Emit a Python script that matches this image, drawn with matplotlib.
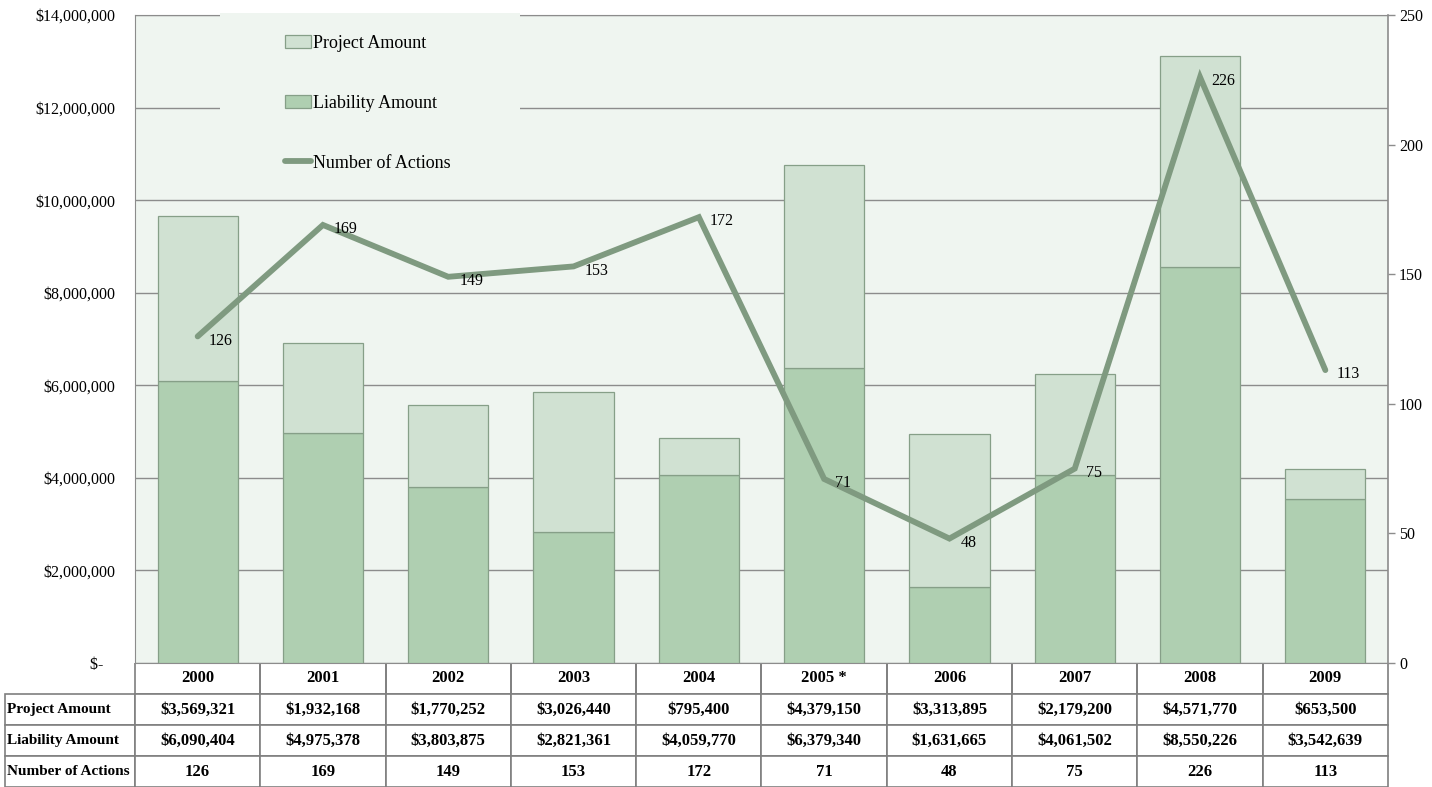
import matplotlib
matplotlib.use('agg')
import matplotlib.pyplot as plt
from matplotlib.ticker import FuncFormatter, MultipleLocator
from matplotlib.table import Table
from matplotlib.patches import Rectangle

years = ['2000', '2001', '2002', '2003', '2004', '2005 *', '2006', '2007', '2008', '2009']
project_amt = [3569321, 1932168, 1770252, 3026440, 795400, 4379150, 3313895, 2179200, 4571770, 653500]
liability_amt = [6090404, 4975378, 3803875, 2821361, 4059770, 6379340, 1631665, 4061502, 8550226, 3542639]
num_actions = [126, 169, 149, 153, 172, 71, 48, 75, 226, 113]
row_names = ['Project Amount', 'Liability Amount', 'Number of Actions']

LIGHT = '#d0e1d2'
DARK = '#afcfb1'
EDGE = '#869f88'
LINE = '#7f9a80'
BG = '#eff5f0'

plt.rcParams['font.family'] = ['Liberation Serif', 'DejaVu Serif']

W, H = 1432, 787
fig = plt.figure(figsize=(W / 100, H / 100), dpi=100)
# plot area in pixels: x 135..1388, y 15..663
AW, AH = 1388 - 135, 663 - 15
ax = fig.add_axes([135 / W, (H - 663) / H, AW / W, AH / H])
ax.set_facecolor(BG)

x = list(range(len(years)))
ax.bar(x, liability_amt, width=0.64, color=DARK, edgecolor=EDGE, linewidth=0.9,
       label='Liability Amount', zorder=3)
ax.bar(x, project_amt, width=0.64, bottom=liability_amt, color=LIGHT, edgecolor=EDGE,
       linewidth=0.9, label='Project Amount', zorder=3)

ax.set_xlim(-0.5, len(years) - 0.5)
ax.set_ylim(0, 14000000)
ax.yaxis.set_major_locator(MultipleLocator(2000000))
ax.yaxis.set_major_formatter(FuncFormatter(lambda v, p: '$-   ' if v == 0 else '${:,.0f}'.format(v)))
ax.grid(axis='y', color='#8c8c8c', linewidth=1.0, zorder=0)
ax.set_xticks([])
ax.tick_params(axis='y', length=0, pad=14, labelsize=11.5)
for s in ['left', 'top', 'bottom']:
    ax.spines[s].set_color('#8c8c8c')
ax.spines['right'].set_visible(False)

ax2 = ax.twinx()
ax2.plot(x, num_actions, color=LINE, linewidth=4.2, solid_capstyle='round',
         solid_joinstyle='miter', label='Number of Actions', zorder=4)
ax2.set_ylim(0, 250)
ax2.yaxis.set_major_locator(MultipleLocator(50))
ax2.tick_params(axis='y', length=5, width=1, color='#8c8c8c', pad=3, labelsize=11.5)
for s in ['left', 'top', 'bottom']:
    ax2.spines[s].set_visible(False)
ax2.spines['right'].set_color('#8c8c8c')
ax2.spines['right'].set_linewidth(1.2)

for xi, n in zip(x, num_actions):
    ax2.annotate(str(n), (xi, n), xytext=(8, -3), textcoords='offset points',
                 ha='left', va='center', fontsize=11.5, zorder=5)

# legend panel, covering the grid in the upper left
ax2.add_patch(Rectangle((85 / AW, 1 - 175 / AH), 300 / AW, 177 / AH, transform=ax2.transAxes,
                        facecolor=BG, edgecolor='none', clip_on=False, zorder=6))
h1, l1 = ax.get_legend_handles_labels()
h2, l2 = ax2.get_legend_handles_labels()
handles = [h1[1], h1[0], h2[0]]
labels = [l1[1], l1[0], l2[0]]
leg = ax2.legend(handles, labels, loc='upper left', bbox_to_anchor=(128 / AW, 1.003),
                 fontsize=13, frameon=False, labelspacing=2.38, handlelength=1.45,
                 handletextpad=0.1, borderpad=1.2, borderaxespad=0)
leg.set_zorder(10)

# data table under the axis
cell_text = [['${:,.0f}'.format(v) for v in project_amt],
             ['${:,.0f}'.format(v) for v in liability_amt],
             [str(v) for v in num_actions]]
lab_w = 130 / AW
row_h = 31 / AH
tbl = Table(ax, bbox=[0, -4 * row_h, 1, 4 * row_h])
for c, yr in enumerate(years):
    tbl.add_cell(0, c, width=0.1, height=row_h, text=yr, loc='center')
for r, name in enumerate(row_names, start=1):
    tbl.add_cell(r, -1, width=lab_w, height=row_h, text=name, loc='left')
    for c, txt in enumerate(cell_text[r - 1]):
        tbl.add_cell(r, c, width=0.1, height=row_h, text=txt, loc='center')
tbl.auto_set_font_size(False)
tbl.set_fontsize(12)
for (r, c), cell in tbl.get_celld().items():
    cell.set_edgecolor('#7f7f7f')
    cell.set_linewidth(1.2)
    cell.get_text().set_fontweight('bold')
    if c == -1:
        cell.PAD = 0.012
        cell.get_text().set_fontsize(11)
    if r == 0:
        cell.visible_edges = 'BLR'
ax.add_table(tbl)

fig.savefig('out.png', dpi=100, facecolor='white')
